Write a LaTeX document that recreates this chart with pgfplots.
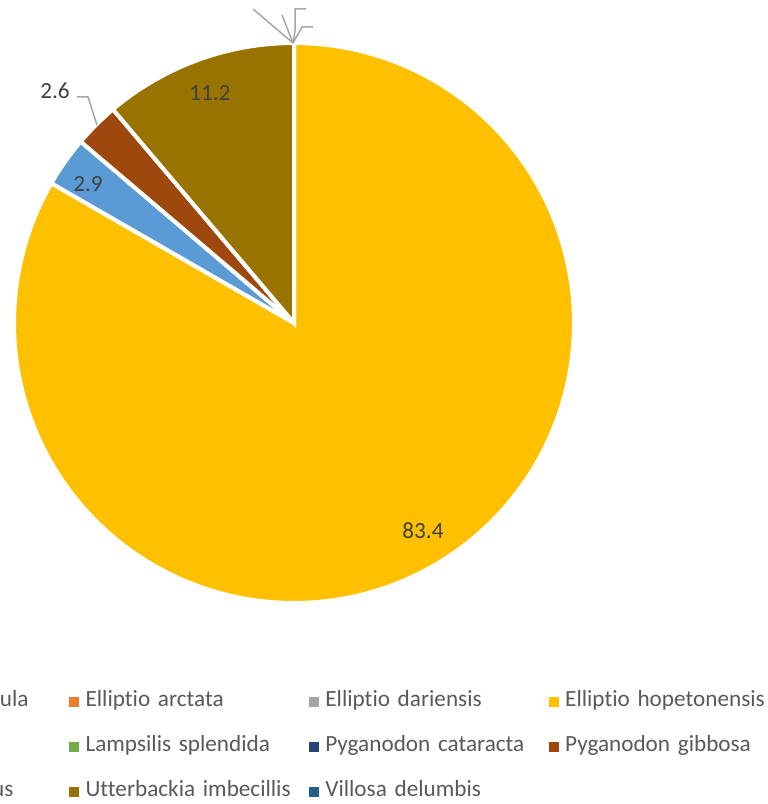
\documentclass[border=0pt]{standalone}
\usepackage{fontspec}
\setmainfont{Carlito}[RawFeature={-liga;-clig;-dlig;-calt}]
\usepackage{pgfplots}
\usepackage{pgfplotstable}
\pgfplotsset{compat=1.18}

\definecolor{c0}{HTML}{4472C4}
\definecolor{c1}{HTML}{ED7D31}
\definecolor{c2}{HTML}{A5A5A5}
\definecolor{c3}{HTML}{FFC000}
\definecolor{c4}{HTML}{5B9BD5}
\definecolor{c5}{HTML}{70AD47}
\definecolor{c6}{HTML}{264478}
\definecolor{c7}{HTML}{9E480E}
\definecolor{c8}{HTML}{636363}
\definecolor{c9}{HTML}{997300}
\definecolor{c10}{HTML}{255E91}
\definecolor{lbl}{HTML}{404040}
\definecolor{legtext}{HTML}{595959}
\definecolor{leader}{HTML}{A6A6A6}

\pgfplotstableread[col sep=comma]{
species,value
Alasmidonta arcula,0
Elliptio arctata,0
Elliptio dariensis,0
Elliptio hopetonensis,83.4
Elliptio icterina,2.9
Lampsilis splendida,0
Pyganodon cataracta,0
Pyganodon gibbosa,2.6
Toxolasma paulus,0
Utterbackia imbecillis,11.2
Villosa delumbis,0
}\piedata

\newcommand\cx{294}
\newcommand\cy{481}
\newcommand\rr{280}

\pgfplotstablegetrowsof{\piedata}
\pgfmathtruncatemacro\lastrow{\pgfplotsretval-1}
\def\total{0}
\pgfplotsforeachungrouped \i in {0,...,\lastrow}{%
  \pgfplotstablegetelem{\i}{value}\of\piedata
  \pgfmathsetmacro\total{\total+\pgfplotsretval}%
}

\pgfplotsset{sq/.style={legend image code/.code={\fill[#1] (0pt,-2.25pt) rectangle (4.5pt,2.25pt);}}}

\begin{document}
\begin{tikzpicture}
\useasboundingbox (0,0) rectangle (383.5pt,402pt);
\clip (0,0) rectangle (383.5pt,402pt);
\begin{axis}[
  at={(0,0)}, anchor=south west,
  scale only axis, width=383.5pt, height=402pt,
  xmin=0, xmax=767, ymin=0, ymax=804,
  hide axis, clip=false,
  legend columns=4,
  legend cell align=left,
  legend style={
    at={(-0.2223,0.1393)}, anchor=north west,
    draw=none, fill=none, inner sep=0pt, outer sep=0pt,
    column sep=0pt, row sep=12.5pt,
    cells={anchor=west},
    nodes={text width=108.5pt, inner xsep=3.25pt, inner ysep=0pt,
           text height=7pt, text depth=3pt,
           font=\fontsize{11.6}{13}\selectfont, text=legtext},
  },
]
\def\cum{0}
\pgfplotsforeachungrouped \i in {0,...,\lastrow}{%
  \pgfplotstablegetelem{\i}{value}\of\piedata
  \let\val\pgfplotsretval
  \pgfmathsetmacro\sa{90-\cum/\total*360}%
  \pgfmathsetmacro\cum{\cum+\val}%
  \pgfmathsetmacro\ea{90-\cum/\total*360}%
  \ifdim\val pt>0pt
    \edef\doslice{\noexpand\addplot[fill=c\i, draw=white, line width=2pt,
      domain=\sa:\ea, samples=150, forget plot]
      ({\cx+\rr*cos(x)},{\cy+\rr*sin(x)}) -- (axis cs:\cx,\cy) -- cycle;}%
    \doslice
  \fi
}

% leader lines
\addplot[leader, line width=0.75pt, forget plot] coordinates {(77,707) (88,707) (97,679)};
\addplot[leader, line width=0.75pt, forget plot] coordinates {(253,795) (293,761)};
\addplot[leader, line width=0.75pt, forget plot] coordinates {(282,789) (293,761)};
\addplot[leader, line width=0.75pt, forget plot] coordinates {(293,761) (295,773) (295,795) (306,795)};
\addplot[leader, line width=0.75pt, forget plot] coordinates {(293,761) (302,777) (313,777)};

% data labels
\begin{scope}[every node/.style={text=lbl, font=\fontsize{11.6}{13}\selectfont, inner sep=0pt}]
\node at (axis cs:423,273) {83.4};
\node at (axis cs:88,620) {2.9};
\node at (axis cs:55,713) {2.6};
\node at (axis cs:210,711) {11.2};
\end{scope}

% legend
\addlegendimage{sq=c0}\addlegendentry{Alasmidonta arcula}
\addlegendimage{sq=c1}\addlegendentry{Elliptio arctata}
\addlegendimage{sq=c2}\addlegendentry{Elliptio dariensis}
\addlegendimage{sq=c3}\addlegendentry{Elliptio hopetonensis}
\addlegendimage{sq=c4}\addlegendentry{Elliptio icterina}
\addlegendimage{sq=c5}\addlegendentry{Lampsilis splendida}
\addlegendimage{sq=c6}\addlegendentry{Pyganodon cataracta}
\addlegendimage{sq=c7}\addlegendentry{Pyganodon gibbosa}
\addlegendimage{sq=c8}\addlegendentry{Toxolasma paulus}
\addlegendimage{sq=c9}\addlegendentry{Utterbackia imbecillis}
\addlegendimage{sq=c10}\addlegendentry{Villosa delumbis}
\end{axis}
\end{tikzpicture}
\end{document}
